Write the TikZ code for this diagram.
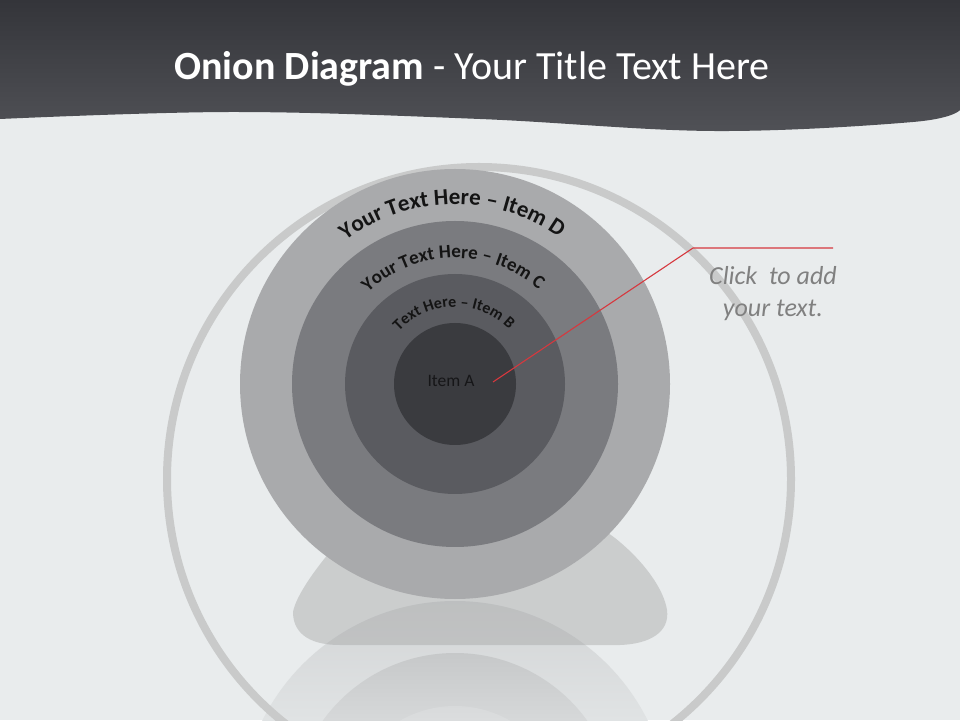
\documentclass[tikz,border=0pt]{standalone}
\usepackage{fontspec}
\setmainfont{Carlito}
\usetikzlibrary{decorations.text}
\definecolor{bg}{RGB}{233,236,237}
\definecolor{ringc}{RGB}{201,202,202}
\definecolor{onD}{RGB}{169,170,172}
\definecolor{onC}{RGB}{122,123,127}
\definecolor{onB}{RGB}{90,91,96}
\definecolor{onA}{RGB}{58,59,63}
\definecolor{blobc}{RGB}{162,163,163}
\definecolor{refDa}{RGB}{210,212,213}
\definecolor{refDb}{RGB}{224,227,228}
\definecolor{refCa}{RGB}{198,200,201}
\definecolor{refCb}{RGB}{214,216,217}
\definecolor{refBa}{RGB}{216,218,219}
\definecolor{refBb}{RGB}{219,221,222}
\definecolor{headtop}{RGB}{52,53,58}
\definecolor{headbot}{RGB}{80,81,86}
\definecolor{leader}{RGB}{214,56,62}
\definecolor{clickgray}{RGB}{128,128,128}
\definecolor{itemtext}{RGB}{22,22,24}
\newcommand\fontD{\fontsize{23}{26}\selectfont\bfseries\color{black!92}}
\newcommand\fontC{\fontsize{19}{22}\selectfont\bfseries\color{black!92}}
\newcommand\fontB{\fontsize{16}{19}\selectfont\bfseries\color{black!92}}
\tikzset{
  arctext/.style={decorate, decoration={text along path, text align=center, text={#1}}},
  clicktext/.style={font=\fontsize{26}{32}\selectfont\itshape, text=clickgray, anchor=base, inner sep=0pt},
}
\begin{document}
\begin{tikzpicture}[x=1pt,y=1pt]
\useasboundingbox (0,0) rectangle (960,720);
\begin{scope}
\clip (0,0) rectangle (960,720);
\fill[bg] (0,0) rectangle (960,720);
\coordinate (O) at (455,336);
\coordinate (R) at (455,-96);
% reflections
\begin{scope}
  \clip (R) circle (215);
  \shade[top color=refDa, bottom color=refDb] (230,0) rectangle (680,120);
\end{scope}
\begin{scope}
  \clip (R) circle (163);
  \shade[top color=refCa, bottom color=refCb] (280,0) rectangle (630,68);
\end{scope}
\begin{scope}
  \clip (R) circle (110);
  \shade[top color=refBa, bottom color=refBb] (340,0) rectangle (570,15);
\end{scope}
% big ring
\draw[ringc, line width=8] (479,241) circle (312);
% shadow blob
\fill[blobc, fill opacity=0.42] (470,75) -- (340,75) .. controls (305,75) and (293,90) .. (293,108)
  .. controls (296,125) and (318,155) .. (340,180) .. controls (380,212) and (430,230) .. (480,230)
  .. controls (530,230) and (580,208) .. (615,182) .. controls (645,158) and (664,130) .. (667,110)
  .. controls (670,88) and (650,76) .. (620,75) -- cycle;
% onion
\fill[onD] (O) circle (215);
\fill[onC] (O) circle (163);
\fill[onB] (O) circle (110);
\fill[onA] (O) circle (61);
% curved labels
\path[arctext={|\fontD|Your Text Here – Item D}] (O) ++(181:180) arc[start angle=181, end angle=1, radius=180];
\path[arctext={|\fontC|Your Text Here – Item C}] (O) ++(181:126) arc[start angle=181, end angle=1, radius=126];
\path[arctext={|\fontB|Text Here – Item B}] (O) ++(181:77) arc[start angle=181, end angle=1, radius=77];
\node[font=\fontsize{17.5}{20}\selectfont, text=itemtext, anchor=base, inner sep=0pt] (itemA) at (451,333) {Item A};
% leader line
\coordinate (lstart) at (493,338);
\coordinate (lbend) at (693,472);
\coordinate (lend) at (833,472);
\draw[leader, line width=1.1] (lstart) -- (lbend) -- (lend);
\node[clicktext] (click1) at (773,435) {Click\ \ to add};
\node[clicktext] (click2) at (773,403) {your text.};
% header
\shade[top color=headtop, bottom color=headbot] (0,720) -- plot[smooth, tension=0.6] coordinates {(0,601) (233,608) (480,601) (713,589) (913,598) (960,610)} -- (960,720) -- cycle;
\node[anchor=base, text=white, font=\fontsize{40}{48}\selectfont, inner sep=0pt] (title) at (472,640) {\textbf{Onion Diagram} - Your Title Text Here};
\end{scope}
\end{tikzpicture}
\end{document}
